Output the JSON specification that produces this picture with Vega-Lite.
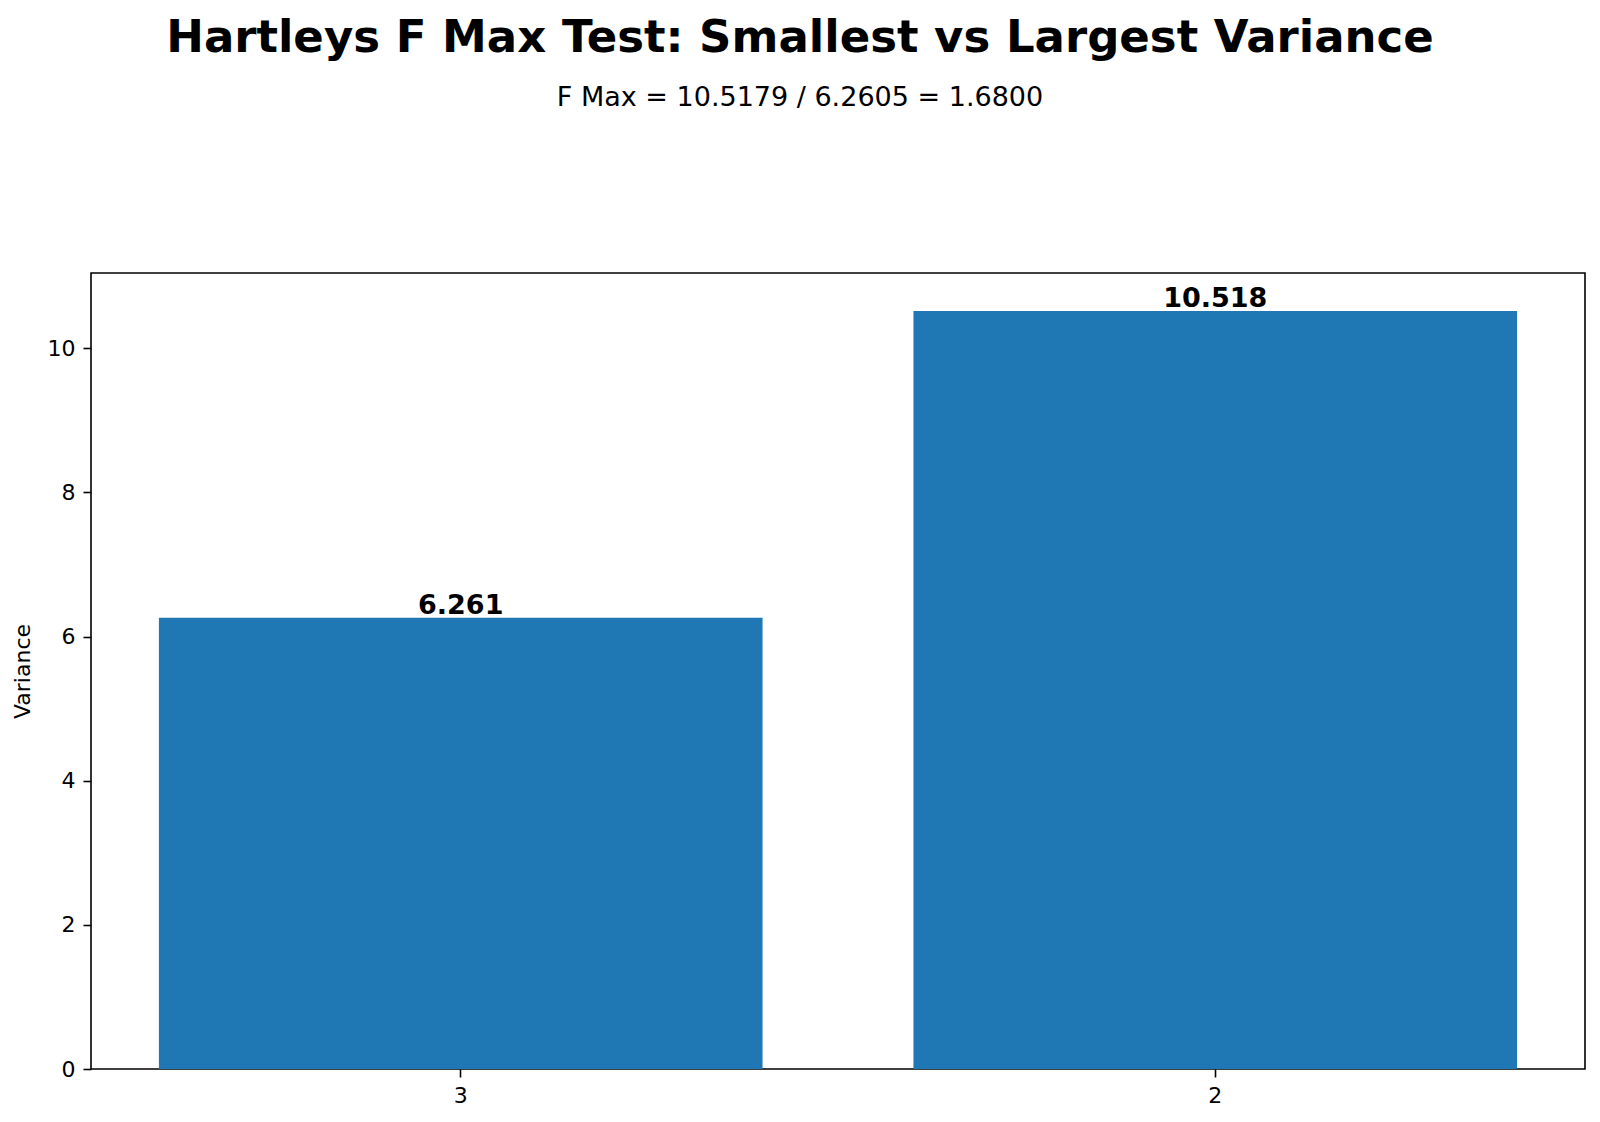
{
  "$schema": "https://vega.github.io/schema/vega-lite/v6.json",
  "width": 1494,
  "height": 796,
  "autosize": "none",
  "padding": {"left": 91, "top": 273, "right": 15, "bottom": 53},
  "background": "white",
  "config": {
    "font": "DejaVu Sans",
    "view": {"stroke": "black", "strokeWidth": 1.6}
  },
  "title": {
    "text": "Hartleys F Max Test: Smallest vs Largest Variance",
    "subtitle": "F Max = 10.5179 / 6.2605 = 1.6800",
    "font": "DejaVu Sans",
    "subtitleFont": "DejaVu Sans",
    "fontSize": 45,
    "fontWeight": "bold",
    "subtitleFontSize": 27,
    "color": "black",
    "subtitleColor": "black",
    "anchor": "middle",
    "dx": -38,
    "offset": 162,
    "subtitlePadding": 24
  },
  "data": {
    "values": [
      {"group": "3", "variance": 6.2605},
      {"group": "2", "variance": 10.5179}
    ]
  },
  "encoding": {
    "x": {
      "field": "group",
      "type": "nominal",
      "sort": null,
      "scale": {"paddingInner": 0.2, "paddingOuter": 0.09},
      "axis": {
        "title": null,
        "labelAngle": 0,
        "labelFontSize": 22,
        "labelColor": "black",
        "labelPadding": 8,
        "tickSize": 8,
        "tickColor": "black",
        "tickWidth": 1.6,
        "domain": false,
        "grid": false
      }
    },
    "y": {
      "field": "variance",
      "type": "quantitative",
      "scale": {"domain": [0, 11.044], "nice": false, "zero": true},
      "axis": {
        "title": "Variance",
        "titleFontSize": 22,
        "titleFontWeight": "normal",
        "titleColor": "black",
        "titlePadding": 13,
        "values": [0, 2, 4, 6, 8, 10],
        "labelFontSize": 22,
        "labelColor": "black",
        "labelPadding": 8,
        "tickSize": 8,
        "tickColor": "black",
        "tickWidth": 1.6,
        "domain": false,
        "grid": false
      }
    }
  },
  "layer": [
    {"mark": {"type": "bar", "color": "#1f77b4"}},
    {
      "mark": {
        "type": "text",
        "baseline": "bottom",
        "align": "center",
        "fontWeight": "bold",
        "fontSize": 27,
        "dy": 2,
        "color": "black"
      },
      "encoding": {
        "text": {"field": "variance", "type": "quantitative", "format": ".3f"}
      }
    }
  ]
}
